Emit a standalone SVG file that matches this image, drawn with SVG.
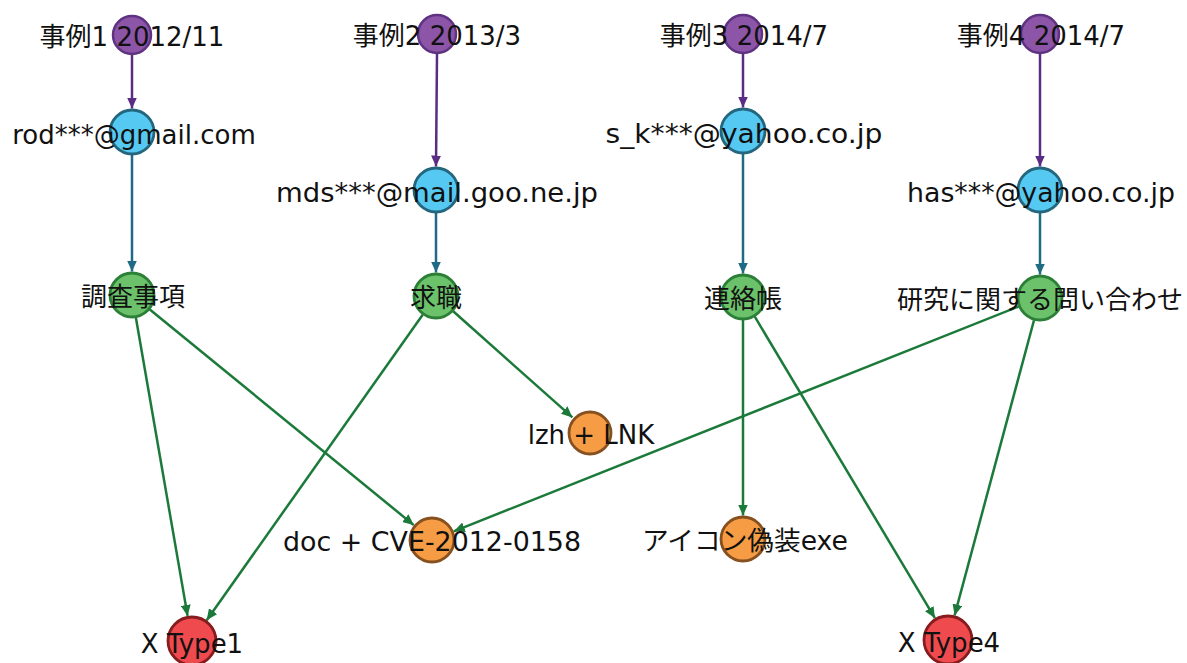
<svg xmlns="http://www.w3.org/2000/svg" width="1187" height="663" viewBox="0 0 1187 663">
<style>
text{font-family:"DejaVu Sans","Noto Sans CJK JP",sans-serif;font-size:26px;fill:#111;text-anchor:middle}
.case{fill:#8c55a8;stroke:#5f3382;stroke-width:2.5}
.mail{fill:#56c9f2;stroke:#23667e;stroke-width:2.8}
.subj{fill:#6cc16b;stroke:#2c7f37;stroke-width:2.8}
.file{fill:#f59c45;stroke:#87501f;stroke-width:2.8}
.mal{fill:#ef4b4f;stroke:#861c1e;stroke-width:2.8}
.ep{stroke:#5b2c83;stroke-width:2.5;fill:none}
.eb{stroke:#1f6a85;stroke-width:2.5;fill:none}
.eg{stroke:#1b7a3a;stroke-width:2.5;fill:none}
</style>
<defs>
<marker id="ap" viewBox="0 0 11 10" refX="11" refY="5" markerWidth="11" markerHeight="10" markerUnits="userSpaceOnUse" orient="auto"><path d="M0,0 L11,5 L0,10 z" fill="#5b2c83"/></marker>
<marker id="ab" viewBox="0 0 11 10" refX="11" refY="5" markerWidth="11" markerHeight="10" markerUnits="userSpaceOnUse" orient="auto"><path d="M0,0 L11,5 L0,10 z" fill="#1f6a85"/></marker>
<marker id="ag" viewBox="0 0 11 10" refX="11" refY="5" markerWidth="11" markerHeight="10" markerUnits="userSpaceOnUse" orient="auto"><path d="M0,0 L11,5 L0,10 z" fill="#1b7a3a"/></marker>
</defs>
<g id="connectors">
<line class="ep" x1="132" y1="54" x2="132" y2="108.5" marker-end="url(#ap)"/>
<line class="ep" x1="437" y1="54" x2="436" y2="166.5" marker-end="url(#ap)"/>
<line class="ep" x1="743" y1="54" x2="743" y2="107.5" marker-end="url(#ap)"/>
<line class="ep" x1="1040" y1="54" x2="1040" y2="166.5" marker-end="url(#ap)"/>
<line class="eb" x1="132" y1="155" x2="132" y2="271.5" marker-end="url(#ab)"/>
<line class="eb" x1="436" y1="213" x2="436" y2="272.5" marker-end="url(#ab)"/>
<line class="eb" x1="743" y1="154" x2="743" y2="273.5" marker-end="url(#ab)"/>
<line class="eb" x1="1040" y1="213" x2="1040" y2="274.5" marker-end="url(#ab)"/>
<line class="eg" x1="135.9" y1="317.7" x2="187.6" y2="615.9" marker-end="url(#ag)"/>
<line class="eg" x1="149.8" y1="309.5" x2="413.8" y2="525.1" marker-end="url(#ag)"/>
<line class="eg" x1="422.7" y1="314.8" x2="206.7" y2="620.2" marker-end="url(#ag)"/>
<line class="eg" x1="453.2" y1="311.3" x2="572.4" y2="417.4" marker-end="url(#ag)"/>
<line class="eg" x1="743" y1="320" x2="743" y2="515.5" marker-end="url(#ag)"/>
<line class="eg" x1="754.8" y1="316.7" x2="934.9" y2="618.1" marker-end="url(#ag)"/>
<line class="eg" x1="1018.6" y1="306.5" x2="453.8" y2="531.3" marker-end="url(#ag)"/>
<line class="eg" x1="1034" y1="320.2" x2="954.6" y2="615.4" marker-end="url(#ag)"/>
</g>
<g id="case1"><circle class="case" cx="132" cy="35" r="19"/><text x="132" y="46">事例1 2012/11</text></g>
<g id="case2"><circle class="case" cx="437" cy="34" r="19"/><text x="437" y="45">事例2 2013/3</text></g>
<g id="case3"><circle class="case" cx="743" cy="34" r="19"/><text x="744" y="45">事例3 2014/7</text></g>
<g id="case4"><circle class="case" cx="1040" cy="34" r="19"/><text x="1041" y="45">事例4 2014/7</text></g>
<g id="mail1"><circle class="mail" cx="132" cy="132" r="22"/><text x="134" y="144">rod***@gmail.com</text></g>
<g id="mail2"><circle class="mail" cx="436" cy="190" r="22"/><text x="437" y="202" textLength="322" lengthAdjust="spacingAndGlyphs">mds***@mail.goo.ne.jp</text></g>
<g id="mail3"><circle class="mail" cx="743" cy="131" r="22"/><text x="744" y="143" textLength="277" lengthAdjust="spacingAndGlyphs">s_k***@yahoo.co.jp</text></g>
<g id="mail4"><circle class="mail" cx="1040" cy="190" r="22"/><text x="1041" y="202" textLength="268" lengthAdjust="spacingAndGlyphs">has***@yahoo.co.jp</text></g>
<g id="subj1"><circle class="subj" cx="132" cy="295" r="22"/><text x="133" y="306">調査事項</text></g>
<g id="subj2"><circle class="subj" cx="436" cy="296" r="22"/><text x="436" y="307">求職</text></g>
<g id="subj3"><circle class="subj" cx="743" cy="297" r="22"/><text x="743" y="308">連絡帳</text></g>
<g id="subj4"><circle class="subj" cx="1040" cy="298" r="22"/><text x="1040" y="309">研究に関する問い合わせ</text></g>
<g id="lzh"><circle class="file" cx="590" cy="433" r="21"/><text x="591" y="444">lzh + LNK</text></g>
<g id="doc"><circle class="file" cx="432" cy="540" r="22"/><text x="432" y="551" textLength="298" lengthAdjust="spacingAndGlyphs">doc + CVE-2012-0158</text></g>
<g id="icon"><circle class="file" cx="743" cy="539" r="22"/><text x="745" y="550" textLength="206" lengthAdjust="spacingAndGlyphs">アイコン偽装exe</text></g>
<g id="type1"><circle class="mal" cx="192" cy="641" r="24"/><text x="192" y="653">X Type1</text></g>
<g id="type4"><circle class="mal" cx="948" cy="640" r="24"/><text x="949" y="652">X Type4</text></g>
</svg>
